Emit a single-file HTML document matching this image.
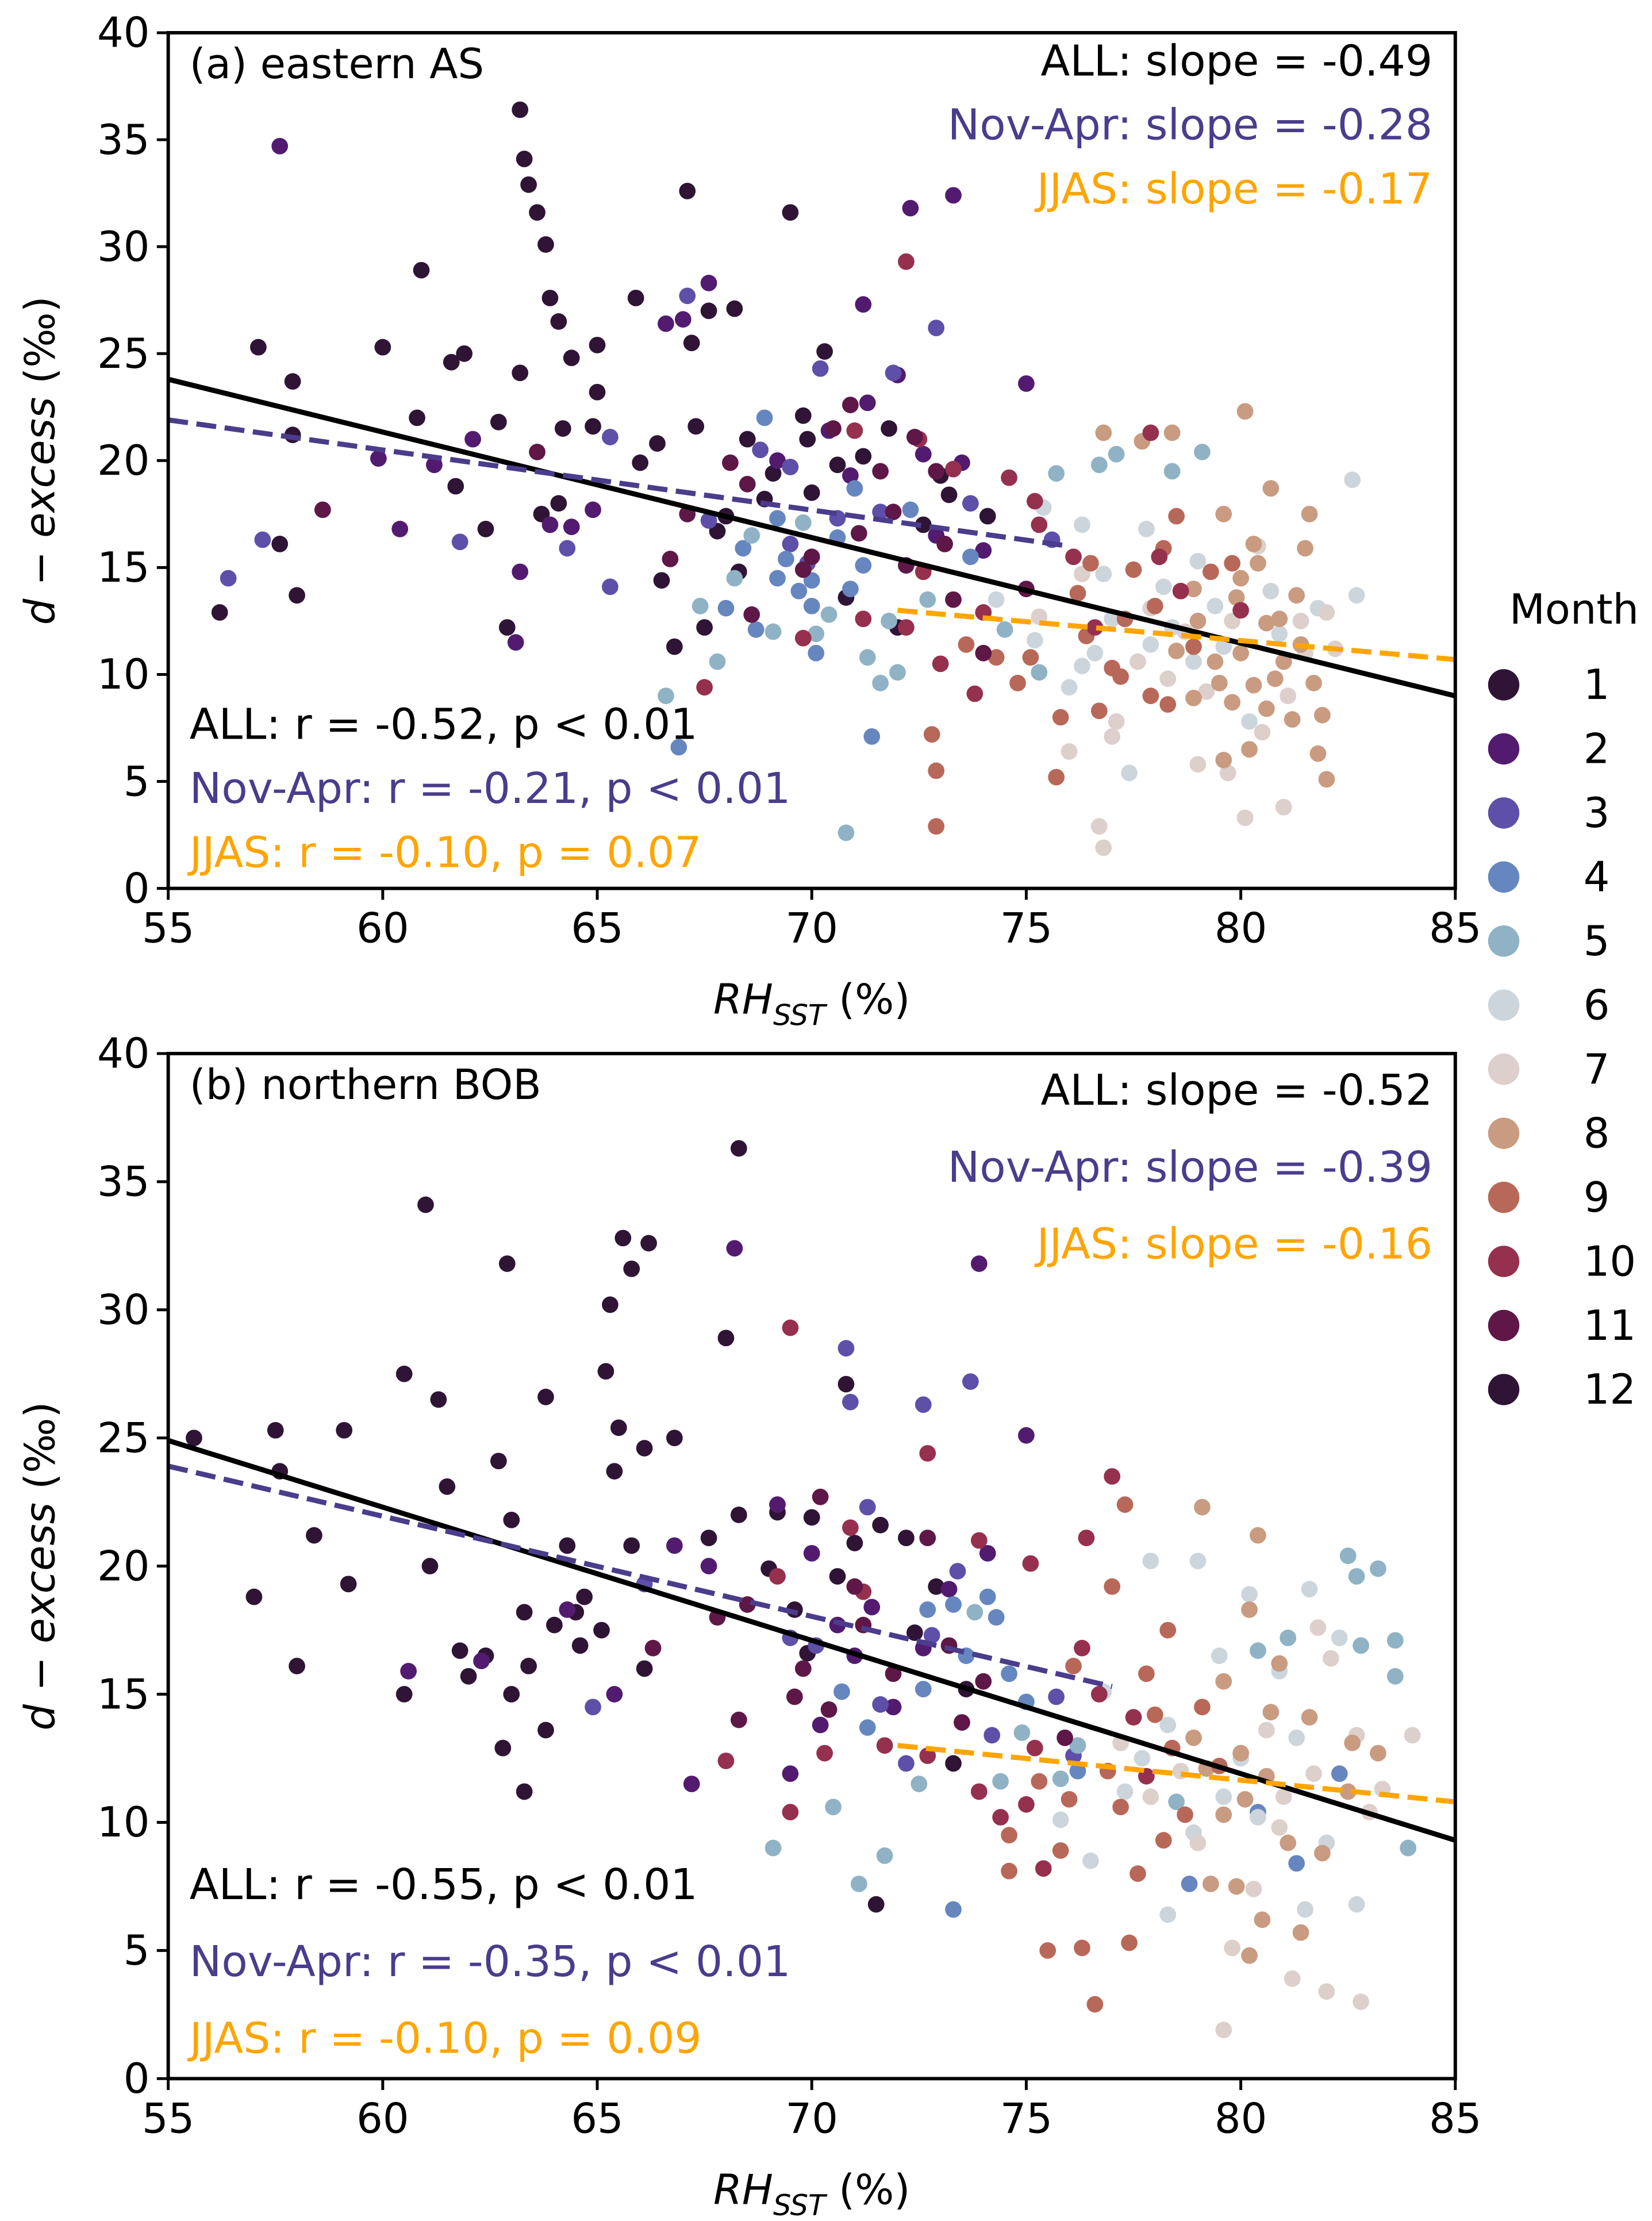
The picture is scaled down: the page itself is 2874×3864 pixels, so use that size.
<!DOCTYPE html>
<html><head><meta charset="utf-8"><style>
html,body{margin:0;padding:0;background:#fff}
svg{display:block}
text{font-family:"DejaVu Sans","Liberation Sans",sans-serif;fill:#000}
</style></head><body>
<svg id="fig" width="2874" height="3864" viewBox="0 0 1160 1560" xmlns="http://www.w3.org/2000/svg">
<g id="pa"></g>
<g id="pb"></g>
<g id="legend"></g>
</svg>
<script>
const monthColors=["#2f1436","#521b70","#5e4fa8","#6686bf","#8fb2c5","#cdd5dc","#dccfcc","#c99b80","#b86858","#96304f","#5f1747","#2f1436"];
const xTicks=[55,60,65,70,75,80,85];
const yTicks=[0,5,10,15,20,25,30,35,40];
// panel a points: [RH, dexcess, month]
const pointsA=[[56.2,12.9,1],[57.1,25.3,12],[57.6,16.1,1],[57.9,23.7,12],[58,13.7,1],[57.9,21.2,12],[60,25.3,1],[60.8,22,12],[60.9,28.9,1],[61.6,24.6,12],[61.9,25,1],[61.7,18.8,12],[62.4,16.8,1],[62.7,21.8,12],[62.9,12.2,1],[63.2,36.4,12],[63.2,24.1,1],[63.3,34.1,12],[63.4,32.9,1],[63.6,31.6,12],[63.8,30.1,1],[63.9,27.6,12],[64.1,26.5,1],[64.4,24.8,12],[64.2,21.5,1],[63.7,17.5,12],[64.1,18,1],[65,25.4,12],[65,23.2,1],[65.9,27.6,12],[66.4,20.8,1],[67.1,32.6,12],[67.2,25.5,1],[67.6,27,12],[68.2,27.1,1],[68.5,21,12],[69.5,31.6,1],[70.3,25.1,12],[69.8,22.1,1],[66.8,11.3,12],[67.5,12.2,1],[68,17.4,12],[69.1,19.4,1],[70,18.5,12],[71.2,20.2,1],[72.6,17,12],[73,19.3,1],[74.1,17.4,12],[66.5,14.4,1],[70.8,13.6,12],[72,12.2,1],[64.9,21.6,12],[66,19.9,1],[67.8,16.7,12],[68.3,14.8,1],[68.9,18.2,12],[69.9,21.0,1],[70.6,19.8,12],[71.8,21.5,1],[73.2,18.4,12],[67.3,21.6,1],
[57.6,34.7,2],[59.9,20.1,2],[60.4,16.8,2],[61.2,19.8,2],[62.1,21,2],[63.1,11.5,2],[63.2,14.8,2],[63.9,17,2],[64.4,16.9,2],[66.6,26.4,2],[67,26.6,2],[67.6,28.3,2],[71.2,27.3,2],[72,24,2],[72.3,31.8,2],[73.3,32.4,2],[70.4,21.4,2],[69.2,20,2],[71.3,22.7,2],[73.5,19.9,2],[72.9,16.5,2],[74,15.8,2],[75,23.6,2],[64.9,17.7,2],[70.9,19.3,2],[72.6,20.3,2],
[57.2,16.3,3],[56.4,14.5,3],[61.8,16.2,3],[64.3,15.9,3],[65.3,21.1,3],[65.3,14.1,3],[67.1,27.7,3],[68.8,20.5,3],[69.5,19.7,3],[70.2,24.3,3],[71.9,24.1,3],[72.9,26.2,3],[70.6,17.3,3],[71.6,17.6,3],[69.5,16.1,3],[75.6,16.3,3],[67.6,17.2,3],[73.7,18,3],[69.9,15.2,3],
[68.9,22,4],[69.4,15.4,4],[70,14.4,4],[69.2,14.5,4],[68.7,12.1,4],[71.2,15.1,4],[71.4,7.1,4],[70,13.2,4],[68,13.1,4],[66.9,6.6,4],[69.2,17.3,4],[70.6,16.4,4],[72.3,17.7,4],[70.1,11,4],[71,18.7,4],[73.7,15.5,4],[68.4,15.9,4],[70.9,14.0,4],[69.7,13.9,4],
[70.8,2.6,5],[67.8,10.6,5],[66.6,9,5],[68.2,14.5,5],[69.1,12,5],[70.1,11.9,5],[71.6,9.6,5],[72,10.1,5],[75.7,19.4,5],[76.7,19.8,5],[77.1,20.3,5],[78.4,19.5,5],[79.1,20.4,5],[69.8,17.1,5],[72.7,13.5,5],[74.5,12.1,5],[75.3,10.1,5],[71.8,12.5,5],[68.6,16.5,5],[70.4,12.8,5],[67.4,13.2,5],[71.3,10.8,5],
[75.4,17.8,6],[76.3,17,6],[77.8,16.8,6],[78.2,14.1,6],[79.4,13.2,6],[79.6,11.3,6],[80.7,13.9,6],[82.6,19.1,6],[82.7,13.7,6],[77,12.6,6],[76.6,11,6],[78.4,12.2,6],[80.2,7.8,6],[79,15.3,6],[77.4,5.4,6],[76.3,10.4,6],[74.3,13.5,6],[76.8,14.7,6],[75.2,11.6,6],[81.8,13.1,6],[77.9,11.4,6],[78.9,10.6,6],[76.0,9.4,6],[80.9,11.9,6],
[76.8,1.9,7],[76.7,2.9,7],[79.7,5.4,7],[80.1,3.3,7],[81,3.8,7],[79,5.8,7],[76,6.4,7],[77.1,7.8,7],[78.3,9.8,7],[79.8,12.5,7],[81.4,12.5,7],[82,12.9,7],[80.4,16,7],[76.3,14.7,7],[77.9,13.1,7],[81.5,11,7],[77,7.1,7],[82.2,11.2,7],[75.3,12.7,7],[80.5,7.3,7],[78.7,12.0,7],[79.2,9.2,7],[81.1,9.0,7],[77.6,10.6,7],
[76.8,21.3,8],[77.7,20.9,8],[78.4,21.3,8],[80.1,22.3,8],[79.6,17.5,8],[80.3,16.1,8],[80.7,18.7,8],[81.6,17.5,8],[81.5,15.9,8],[80,14.5,8],[78.9,14,8],[80.6,12.4,8],[81.4,11.4,8],[80.8,9.8,8],[79.8,8.7,8],[80.2,6.5,8],[81.2,7.9,8],[81.8,6.3,8],[82,5.1,8],[79.6,6,8],[78.9,8.9,8],[78.5,11.1,8],[79.4,10.6,8],[81,10.6,8],[80,11,8],[80.6,8.4,8],[79.5,9.6,8],[81.9,8.1,8],[80.4,15.2,8],[81.3,13.7,8],[79.0,12.5,8],[80.3,9.5,8],[81.7,9.6,8],[79.9,13.6,8],[80.9,12.6,8],
[72.9,2.9,9],[72.9,5.5,9],[72.8,7.2,9],[75.7,5.2,9],[77.2,9.9,9],[78.9,11.3,9],[77.5,14.9,9],[78.2,15.9,9],[76.5,15.2,9],[77.3,12.6,9],[76.7,8.3,9],[78.3,8.6,9],[79.3,14.8,9],[78.5,17.4,9],[79.8,15.2,9],[77,10.3,9],[75.8,8,9],[76.2,13.8,9],[74.3,10.8,9],[73.6,11.4,9],[78,13.2,9],[75.1,10.8,9],[77.9,9.0,9],[76.4,11.8,9],[74.8,9.6,9],
[72.2,29.3,10],[73.3,19.6,10],[74.6,19.2,10],[75.2,18.1,10],[76.1,15.5,10],[77.9,21.3,10],[78.1,15.5,10],[73,10.5,10],[74,12.9,10],[75.3,17,10],[72.2,12.2,10],[73.8,9.1,10],[72.6,14.8,10],[71.2,12.6,10],[69.8,11.7,10],[67.5,9.4,10],[78.6,13.9,10],[80,13,10],[71.0,21.4,10],[72.5,21.0,10],[76.6,12.2,10],
[58.6,17.7,11],[63.6,20.4,11],[69.8,14.9,11],[68.6,12.8,11],[70.5,21.5,11],[71.9,17.6,11],[72.4,21.1,11],[72.9,19.5,11],[73.1,16.1,11],[74,11,11],[73.3,13.5,11],[75,14,11],[71.1,16.6,11],[70,15.5,11],[67.1,17.5,11],[68.1,19.9,11],[70.9,22.6,11],[68.5,18.9,11],[66.7,15.4,11],[71.6,19.5,11],[72.2,15.1,11]];
const pointsB=[[55.6,25,12],[57,18.8,1],[57.5,25.3,12],[57.6,23.7,1],[58,16.1,12],[58.4,21.2,1],[59.1,25.3,12],[59.2,19.3,1],[60.5,27.5,12],[60.5,15,1],[61.1,20,12],[61.3,26.5,1],[61.5,23.1,12],[61.8,16.7,1],[62,15.7,12],[62.4,16.5,1],[62.7,24.1,12],[62.8,12.9,1],[63,21.8,12],[63.3,11.2,1],[63.3,18.2,12],[63.8,26.6,1],[64,17.7,12],[64.3,20.8,1],[64.5,18.2,12],[65.1,17.5,1],[65.2,27.6,12],[65.4,23.7,1],[65.5,25.4,12],[65.6,32.8,1],[65.8,31.6,12],[65.8,20.8,1],[66.2,32.6,12],[66.1,24.6,1],[66.8,25,12],[62.9,31.8,1],[61,34.1,12],[63,15,1],[63.8,13.6,12],[63.4,16.1,1],[64.6,16.9,12],[67.6,21.1,1],[68,28.9,12],[68.3,36.3,1],[68.3,22,12],[69,19.9,1],[69.2,22.1,12],[69.6,18.3,1],[70,21.9,12],[71,20.9,1],[71.6,21.6,12],[72.2,21.1,1],[70.8,27.1,12],[71.5,6.8,1],[72.4,17.4,12],[73.6,15.2,1],[73.3,12.3,12],[66.1,16,1],[64.7,18.8,12],[65.3,30.2,1],[70.6,19.6,12],[72.9,19.2,1],[69.9,16.6,12],
[60.6,15.9,2],[62.3,16.3,2],[64.3,18.3,2],[65.4,15,2],[66.8,20.8,2],[67.2,11.5,2],[67.6,20,2],[68.2,32.4,2],[69.2,22.4,2],[70,20.5,2],[70.6,17.7,2],[71,16.5,2],[71.9,14.5,2],[72.6,16.8,2],[73.2,19.1,2],[73.9,31.8,2],[74.1,20.5,2],[75,25.1,2],[70.2,13.8,2],[69.5,11.9,2],[71.4,18.4,2],
[64.9,14.5,3],[66.1,19.3,3],[69.5,17.2,3],[70.8,28.5,3],[70.9,26.4,3],[72.6,26.3,3],[73.7,27.2,3],[71.3,22.3,3],[70.1,16.9,3],[71.6,14.6,3],[72.2,12.3,3],[73.4,19.8,3],[74.2,13.4,3],[75.7,14.9,3],[76.1,12.6,3],[72.8,17.3,3],
[72.7,18.3,4],[73.3,18.5,4],[73.6,16.5,4],[74.1,18.8,4],[74.3,18,4],[73.3,6.6,4],[75,14.7,4],[76.2,12,4],[78.8,7.6,4],[80.4,10.4,4],[81.3,8.4,4],[82.3,11.9,4],[72.6,15.2,4],[71.3,13.7,4],[70.7,15.1,4],[74.6,15.8,4],
[69.1,9,5],[70.5,10.6,5],[71.1,7.6,5],[71.7,8.7,5],[72.5,11.5,5],[74.9,13.5,5],[76.2,13,5],[82.5,20.4,5],[82.7,19.6,5],[83.2,19.9,5],[83.6,17.1,5],[83.6,15.7,5],[82.8,16.9,5],[83.9,9,5],[81.1,17.2,5],[80.4,16.7,5],[75.8,11.7,5],[78.5,10.8,5],[73.8,18.2,5],[74.4,11.6,5],
[77.9,20.2,6],[79,20.2,6],[80.2,18.9,6],[81.6,19.1,6],[82.3,17.2,6],[79.5,16.5,6],[80.9,15.9,6],[77.7,12.5,6],[78.3,13.8,6],[79.6,11,6],[80.4,10.2,6],[82,9.2,6],[76.5,8.5,6],[78.3,6.4,6],[81.5,6.6,6],[82.7,6.8,6],[75.8,10.1,6],[80,12.5,6],[81.3,13.3,6],[76.8,15.1,6],[78.9,9.6,6],[77.3,11.2,6],
[79.6,1.9,7],[79.8,5.1,7],[81.2,3.9,7],[82,3.4,7],[82.8,3,7],[80.3,7.4,7],[79,9.2,7],[77.9,11,7],[81.7,11.9,7],[82.1,16.4,7],[82.7,13.4,7],[83.3,11.3,7],[80.6,13.6,7],[77.2,13.1,7],[83,10.4,7],[84,13.4,7],[81.8,17.6,7],[80.9,9.8,7],[78.6,12.0,7],[81.0,11.0,7],
[79.1,22.3,8],[80.4,21.2,8],[80.2,18.3,8],[80.9,16.2,8],[79.6,15.5,8],[80,12.7,8],[80.6,11.8,8],[81.1,9.2,8],[79.9,7.5,8],[80.5,6.2,8],[81.4,5.7,8],[80.2,4.8,8],[82.6,13.1,8],[83.2,12.7,8],[78.9,13.3,8],[79.6,10.3,8],[81.9,8.8,8],[82.5,11.2,8],[80.7,14.3,8],[79.3,7.6,8],[81.6,14.1,8],[80.1,10.9,8],[79.2,12.1,8],
[76.6,2.9,9],[76.3,5.1,9],[75.5,5,9],[77.4,5.3,9],[77.2,10.6,9],[77,19.2,9],[77.3,22.4,9],[78.3,17.5,9],[78.4,12.9,9],[79.1,14.5,9],[77.6,8,9],[78.2,9.3,9],[75.8,8.9,9],[74.6,9.5,9],[74.6,8.1,9],[76.1,16.1,9],[77.8,15.8,9],[79.5,12.2,9],[76.9,12,9],[78.7,10.3,9],[76.0,10.9,9],[75.3,11.6,9],[78.0,14.2,9],
[69.5,29.3,10],[69.2,19.6,10],[70.9,21.5,10],[71.2,19,10],[72.7,24.4,10],[73.9,21,10],[75.1,20.1,10],[76.3,16.8,10],[76.4,21.1,10],[77,23.5,10],[68,12.4,10],[69.5,10.4,10],[70.3,12.7,10],[71.7,13,10],[72.7,12.6,10],[73.9,11.2,10],[74.4,10.2,10],[75.2,12.9,10],[76.7,15,10],[77.8,11.8,10],[75.4,8.2,10],[75.0,10.7,10],[77.5,14.1,10],
[67.8,18,11],[68.5,18.5,11],[69.8,16,11],[70.4,14.4,11],[72.7,21.1,11],[73.2,16.9,11],[71.9,15.8,11],[71,19.2,11],[70.2,22.7,11],[68.3,14,11],[69.6,14.9,11],[74,15.5,11],[75.9,13.3,11],[73.5,13.9,11],[66.3,16.8,11],[71.2,17.7,11]];
// fit lines: [x0,y0,x1,y1]
const fitA_all=[55,23.8,85,9.0], fitA_nov=[55,21.9,76,16.0], fitA_jjas=[72,13.0,85,10.7];
const fitB_all=[55,24.9,85,9.3], fitB_nov=[55,23.9,77,15.3], fitB_jjas=[72,13.0,85,10.8];
const NS="http://www.w3.org/2000/svg";
function mk(parent,tag,attrs,txt){const e=document.createElementNS(NS,tag);for(const k in attrs)e.setAttribute(k,attrs[k]);if(txt!==undefined)e.textContent=txt;parent.appendChild(e);return e;}
function panel(g,top,bottom,pts,fits,label,topTexts,botTexts){
  const L=118,R=1022;
  const sx=v=>L+(v-55)/30*(R-L);
  const sy=v=>bottom-(v/40)*(bottom-top);
  const pg=mk(g,'g',{});
  
  
  pts.forEach(p=>{const c=mk(pg,'circle',{cx:sx(p[0]),cy:sy(p[1]),r:5.8,fill:monthColors[p[2]-1]});
    
    });
  const cols=['#000','#4b3c8c','#ffa500'],names=['fit-line-all','fit-line-nov-apr','fit-line-jjas'];
  fits.forEach((f,i)=>{const l=mk(g,'line',{x1:sx(f[0]),y1:sy(f[1]),x2:sx(f[2]),y2:sy(f[3]),stroke:cols[i],'stroke-width':i==0?3.6:3.6,'stroke-dasharray':i==0?'none':'14,6'});
    
    });
  const fr=mk(g,'rect',{x:L,y:top,width:R-L,height:bottom-top,fill:'none',stroke:'#000','stroke-width':2.4});
  
  
  xTicks.forEach(v=>{mk(g,'line',{x1:sx(v),x2:sx(v),y1:bottom,y2:bottom+8,stroke:'#000','stroke-width':2});
    const t=mk(g,'text',{x:sx(v),y:bottom+38,'text-anchor':'middle','font-size':29},v);
    
    });
  yTicks.forEach(v=>{mk(g,'line',{x1:L-8,x2:L,y1:sy(v),y2:sy(v),stroke:'#000','stroke-width':2});
    const t=mk(g,'text',{x:L-13,y:sy(v)+10,'text-anchor':'end','font-size':29},v);
    
    });
  const xl=mk(g,'text',{x:570,y:bottom+88,'text-anchor':'middle','font-size':29});
  xl.innerHTML='<tspan font-style="italic">RH</tspan><tspan font-style="italic" font-size="20" dy="8">SST</tspan><tspan dy="-8"> (%)</tspan>';
  
  
  const cy=(top+bottom)/2;
  const yl=mk(g,'text',{x:0,y:0,'text-anchor':'middle','font-size':29,transform:`translate(38,${cy}) rotate(-90)`});
  yl.innerHTML='<tspan font-style="italic">d</tspan> − <tspan font-style="italic">excess</tspan> (‰)';
  
  
  const tl=mk(g,'text',{x:133,y:top+32,'font-size':29},label);
  
  
  topTexts.forEach((t,i)=>{const e=mk(g,'text',{x:1006,y:t[1],'text-anchor':'end','font-size':30},t[0]);e.style.fill=cols[i];
    
    });
  botTexts.forEach((t,i)=>{const e=mk(g,'text',{x:133,y:t[1],'font-size':30},t[0]);e.style.fill=cols[i];
    
    });
}
panel(document.getElementById('pa'),23,624,pointsA,[fitA_all,fitA_nov,fitA_jjas],'(a) eastern AS',
 [['ALL: slope = -0.49',53],['Nov-Apr: slope = -0.28',98],['JJAS: slope = -0.17',143]],
 [['ALL: r = -0.52, p < 0.01',519],['Nov-Apr: r = -0.21, p < 0.01',564],['JJAS: r = -0.10, p = 0.07',609]]);
panel(document.getElementById('pb'),740,1460,pointsB,[fitB_all,fitB_nov,fitB_jjas],'(b) northern BOB',
 [['ALL: slope = -0.52',776],['Nov-Apr: slope = -0.39',830],['JJAS: slope = -0.16',884]],
 [['ALL: r = -0.55, p < 0.01',1334],['Nov-Apr: r = -0.35, p < 0.01',1388],['JJAS: r = -0.10, p = 0.09',1442]]);
const lg=document.getElementById('legend');
const lt=mk(lg,'text',{x:1060,y:438,'font-size':29},'Month');


monthColors.forEach((c,i)=>{const y=481+i*45;
  const d=mk(lg,'circle',{cx:1056,cy:y,r:11,fill:c});
  
  
  const t=mk(lg,'text',{x:1112,y:y+10,'font-size':29},String(i+1));
  
  });
</script>
</body></html>
